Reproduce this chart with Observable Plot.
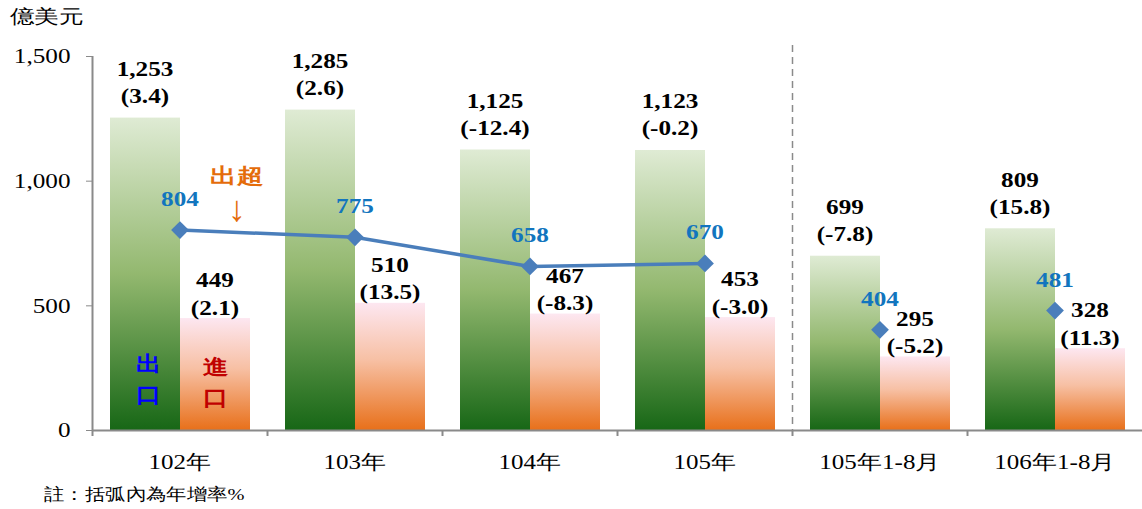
<!DOCTYPE html>
<html><head><meta charset="utf-8">
<script src="https://cdn.jsdelivr.net/npm/d3@7"></script>
<script src="https://cdn.jsdelivr.net/npm/@observablehq/plot@0.6"></script>
<style>
body{margin:0;background:#fff;}
#chart{position:relative;width:1142px;height:509px;overflow:hidden;}
.note{position:absolute;left:44px;top:483px;font-size:17px;font-family:"Liberation Serif",serif;color:#000;transform:scale(1.2,1);transform-origin:0 0;white-space:nowrap;}
</style></head><body><div id="chart"></div>
<script>
const categories = ["102年","103年","104年","105年","105年1-8月","106年1-8月"];
const exportValues = [1253,1285,1125,1123,699,809];
const exportGrowth = [3.4,2.6,-12.4,-0.2,-7.8,15.8];
const importValues = [449,510,467,453,295,328];
const importGrowth = [2.1,13.5,-8.3,-3.0,-5.2,11.3];
const surplusValues = [804,775,658,670,404,481];
const yTicks = [0,500,1000,1500];
const unitLabel = "億美元";
const noteText = "註：括弧內為年增率%";

const rows = categories.map((c,i)=>({category:c, exp:exportValues[i], expG:exportGrowth[i], imp:importValues[i], impG:importGrowth[i], sur:surplusValues[i]}));
const fmt = d3.format(",");
const serif = "Liberation Serif";
const gray = "#8a8a8a";
const half = 87.5;

const svg = Plot.plot({
  width:1142, height:480,
  marginLeft:92, marginRight:0, marginTop:56, marginBottom:50,
  style:{background:"#fff", color:"#000", fontFamily:serif},
  x:{type:"band", domain:categories, padding:0, label:null},
  y:{domain:[0,1500], label:null},
  marks:[
    Plot.barY(rows,{x:"category", y:"exp", fill:"url(#gExp)", insetLeft:18, insetRight:87}),
    Plot.barY(rows,{x:"category", y:"imp", fill:"url(#gImp)", insetLeft:88, insetRight:17}),
    Plot.ruleY([0],{stroke:gray, strokeWidth:2}),
    Plot.ruleX(categories,{x:d=>d, dx:-half, y1:0, y2:0, insetBottom:-6, stroke:gray, strokeWidth:2}),
    Plot.ruleX([categories[0]],{x:d=>d, dx:-half, stroke:gray, strokeWidth:2}),
    Plot.ruleX([categories[4]],{x:d=>d, dx:-half, insetTop:-11, stroke:gray, strokeWidth:1.5, strokeDasharray:"7,5"}),
    Plot.axisY({ticks:yTicks, tickFormat:fmt, tickSize:6, tickPadding:16, stroke:gray, fill:"#000", fontSize:21, fontFamily:serif}),
    Plot.axisX({tickSize:0, tickPadding:24, fill:"#000", fontSize:20, fontFamily:serif}),
    Plot.line(rows.filter(d=>!d.category.includes("1-8")),{x:"category", y:"sur", stroke:"#4a7ebb", strokeWidth:3.5}),
    Plot.dot(rows,{x:"category", y:"sur", symbol:"diamond2", r:8, fill:"#4a7ebb"}),
    Plot.text(rows,{x:"category", y:"sur", text:d=>fmt(d.sur), dy:-24, lineAnchor:"bottom", fill:"#1275be", fontWeight:"bold", fontSize:21, fontFamily:serif}),
    Plot.text(rows,{x:"category", y:"exp", text:d=>fmt(d.exp)+"\n("+d.expG.toFixed(1)+")", dx:-35, dy:-15, lineAnchor:"bottom", lineHeight:1.3, fontWeight:"bold", fontSize:21, fill:"#000", fontFamily:serif}),
    Plot.text(rows,{x:"category", y:"imp", text:d=>fmt(d.imp)+"\n("+d.impG.toFixed(1)+")", dx:35, dy:-4, lineAnchor:"bottom", lineHeight:1.3, fontWeight:"bold", fontSize:21, fill:"#000", fontFamily:serif}),
    Plot.text(["出\n口"],{x:()=>categories[0], frameAnchor:"bottom", dx:-32, dy:-29, lineAnchor:"bottom", lineHeight:1.43, fill:"#0000ff", fontWeight:"bold", fontSize:21, fontFamily:serif}),
    Plot.text(["進\n口"],{x:()=>categories[0], frameAnchor:"bottom", dx:35, dy:-26, lineAnchor:"bottom", lineHeight:1.43, fill:"#c00000", fontWeight:"bold", fontSize:21, fontFamily:serif}),
    Plot.text(["出超"],{x:()=>categories[0], frameAnchor:"top", dx:57, dy:126, lineAnchor:"bottom", fill:"#e46c0a", fontWeight:"bold", fontSize:21, fontFamily:serif}),
    Plot.text(["↓"],{x:()=>categories[0], frameAnchor:"top", dx:57, dy:164, lineAnchor:"bottom", fill:"#e46c0a", fontSize:36, fontFamily:serif}),
    Plot.text([unitLabel],{frameAnchor:"top-left", dx:-83, dy:-47, fontSize:19, fill:"#000", fontFamily:serif})
  ]
});

d3.select(svg).insert("defs",":first-child").html(`
<linearGradient id="gExp" x1="0" y1="0" x2="0" y2="1">
<stop offset="0" stop-color="#dfebd4"/><stop offset="0.5" stop-color="#93b86f"/><stop offset="1" stop-color="#176716"/>
</linearGradient>
<linearGradient id="gImp" x1="0" y1="0" x2="0" y2="1">
<stop offset="0" stop-color="#fde7f1"/><stop offset="0.45" stop-color="#f7c0a4"/><stop offset="1" stop-color="#e8701a"/>
</linearGradient>`);
d3.select(svg).selectAll("text").each(function(){
  const t = this.textContent;
  let s = 1.2;
  if (t === unitLabel) s = 1.3;
  else if (categories.includes(t)) s = 1.25;
  else if (t === "出超") s = 1.26;
  else if (t === "↓") s = 1;
  const tr = this.getAttribute("transform") || "";
  this.setAttribute("transform", (tr + ` scale(${s},1)`).trim());
});
const chart = document.getElementById("chart");
chart.appendChild(svg);
const note = document.createElement("div");
note.className = "note";
note.textContent = noteText;
chart.appendChild(note);
</script></body></html>
